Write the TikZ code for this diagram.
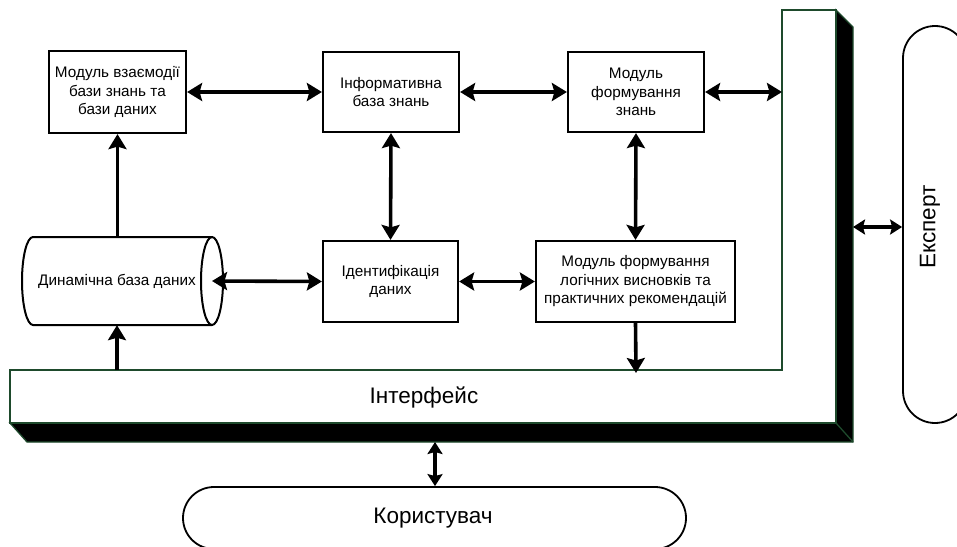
\documentclass[tikz,border=0pt]{standalone}
\usepackage{fontspec}
\setmainfont{Liberation Sans}
\usetikzlibrary{arrows.meta}
\definecolor{ifgreen}{HTML}{1E4A2C}
\begin{document}
\begin{tikzpicture}[x=1pt,y=-1pt,
  box/.style={draw=black,line width=2.2pt,fill=white,align=center,inner sep=2pt,
    font=\fontsize{15.3}{18.5}\selectfont},
  bigarrow/.style={line width=3.6pt,{Stealth[length=15pt,width=18pt,inset=2.5pt]}-{Stealth[length=15pt,width=18pt,inset=2.5pt]}},
  onearrow/.style={line width=3.6pt,-{Stealth[length=15pt,width=18pt,inset=2.5pt]}},
  smallarrow/.style={line width=3.2pt,{Stealth[length=12pt,width=15pt,inset=2pt]}-{Stealth[length=12pt,width=15pt,inset=2pt]}},
  term/.style={draw=black,line width=1.8pt,fill=white},
  bigtext/.style={font=\fontsize{22.5}{26}\selectfont}]
\useasboundingbox (0,0) rectangle (957,546);

% Interface (L-shaped with shadow)
\draw[ifgreen,line width=1.3pt,fill=black,line join=miter]
  (836,10) -- (853,27) -- (853,442) -- (27,442) -- (10,423) -- (836,423) -- cycle;
\draw[ifgreen,line width=1.3pt] (836,423) -- (853,442);
\draw[ifgreen,line width=1.6pt,fill=white]
  (10,370) -- (782,370) -- (782,10) -- (836,10) -- (836,423) -- (10,423) -- cycle;
\node[bigtext] (iface) at (424,397) {Інтерфейс};
\coordinate (ifR) at (782,92);
\coordinate (ifTopA) at (117,370);
\coordinate (ifTopB) at (636,370);
\coordinate (ifOut) at (853,227);
\coordinate (ifBot) at (435,442);

% Boxes
\node[box,minimum width=137pt,minimum height=82pt] (b1) at (117.5,92)
  {Модуль взаємодії\\бази знань та\\бази даних};
\node[box,minimum width=136pt,minimum height=80pt] (b2) at (391,92)
  {Інформативна\\база знань};
\node[box,minimum width=136pt,minimum height=80pt] (b3) at (636,92)
  {Модуль\\формування\\знань};
\node[box,minimum width=135pt,minimum height=81pt] (b4) at (390.5,281.5)
  {Ідентифікація\\даних};
\node[box,minimum width=199pt,minimum height=81pt] (b5) at (635.5,281.5)
  {Модуль формування\\логічних висновків та\\практичних рекомендацій};

% Cylinder (Dynamic DB)
\node[minimum width=201pt,minimum height=88pt,inner sep=0pt] (dyn) at (122.5,281) {};
\draw[line width=2pt,fill=white]
  (33,237) -- (212,237) arc[start angle=90,end angle=-90,x radius=11,y radius=-44]
  -- (33,325) arc[start angle=-90,end angle=-270,x radius=11,y radius=-44] -- cycle;
\draw[line width=2pt] (212,237) arc[start angle=90,end angle=270,x radius=11,y radius=-44];
\node[font=\fontsize{15.3}{18.5}\selectfont] (dyntext) at (117,281) {Динамічна база даних};
\coordinate (dynR) at (212,281);

% Expert
\node[term,rounded corners=32pt,minimum width=64pt,minimum height=397pt,inner sep=0pt]
  (exp) at (935,224.5) {};
\node[bigtext,rotate=90] (exptext) at (930,227) {Експерт};

% User
\node[term,rounded corners=31pt,minimum width=503pt,minimum height=62pt,inner sep=0pt]
  (usr) at (434.5,518) {};
\node[bigtext] (usrtext) at (433,518) {Користувач};

% Connectors
\draw[bigarrow] (b1.east) -- (b2.west);
\draw[bigarrow] (b2.east) -- (b3.west);
\draw[bigarrow] (b3.east) -- (ifR);
\draw[bigarrow] (b2.south) -- (b4.north);
\draw[bigarrow] (b3.south) -- (b5.north);
\draw[bigarrow] (dynR) -- (b4.west);
\draw[bigarrow] (b4.east) -- (b5.west);
\draw[onearrow] (b5.south) -- ([yshift=-3pt]ifTopB);
\draw[onearrow] (dyn.north -| b1.south) -- (b1.south);
\draw[onearrow] (ifTopA) -- (dyn.south -| ifTopA);
\draw[smallarrow] (ifOut) -- (exp.west |- ifOut);
\draw[smallarrow] (ifBot) -- (usr.north -| ifBot);
\end{tikzpicture}
\end{document}
